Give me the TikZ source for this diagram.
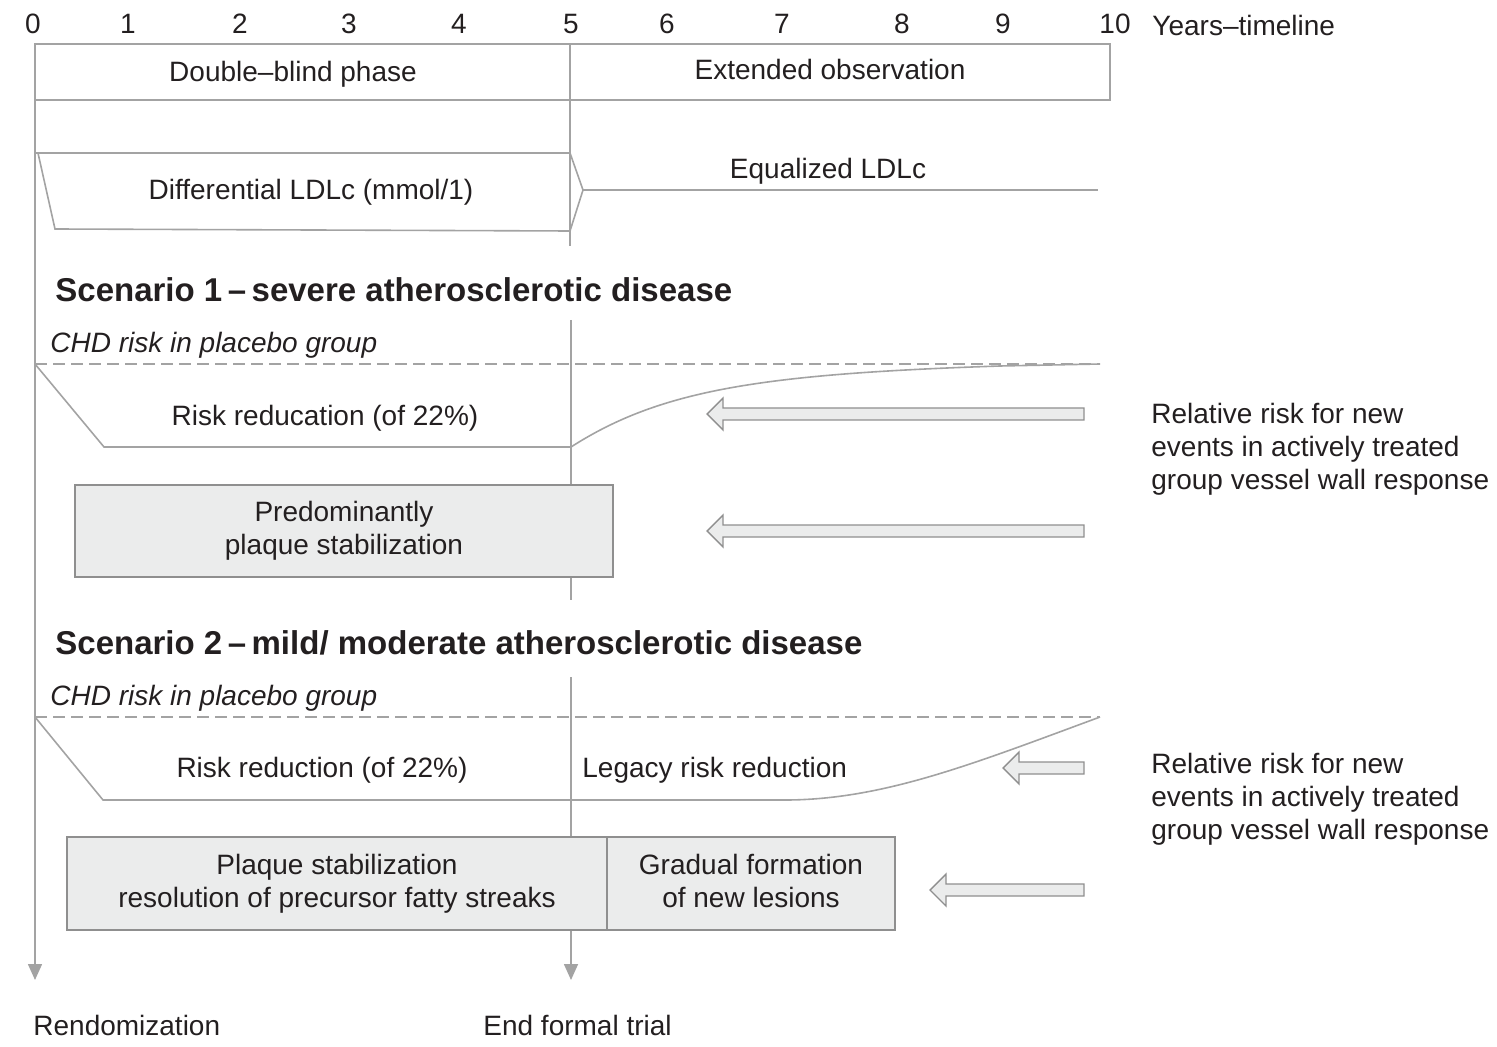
\documentclass[tikz,border=0pt]{standalone}
\usepackage{fontspec}
\setmainfont{Liberation Sans}
\usetikzlibrary{arrows.meta}
\definecolor{lnc}{HTML}{A3A3A3}
\definecolor{txc}{HTML}{231F20}
\definecolor{bxc}{HTML}{EBECEC}
\definecolor{bdc}{HTML}{8F8F8F}
\begin{document}
\begin{tikzpicture}[x=0.5pt,y=-0.5pt,
  every node/.style={text=txc, font=\fontsize{14}{16.5}\selectfont, inner sep=0pt},
  gl/.style={draw=lnc, line width=0.8pt},
  dl/.style={draw=lnc, line width=0.8pt, dash pattern=on 6pt off 3pt},
  ttl/.style={font=\bfseries\fontsize{16.5}{19}\selectfont, anchor=base west},
  chd/.style={font=\itshape\fontsize{14}{16.5}\selectfont, anchor=base west},
  boxst/.style={draw=bdc, fill=bxc, line width=0.8pt, align=center, minimum height=46pt},
  hollow/.style={draw=bdc, fill=bxc, line width=0.7pt},
  downarr/.style={gl, -{Triangle[length=8pt,width=7pt,fill=lnc]}},
  rtext/.style={align=left, anchor=west}]
\useasboundingbox (0,0) rectangle (1497,1047);

% tick labels
\foreach \x/\n in {33/0,128/1,240/2,349/3,459/4,571/5,667/6,782/7,902/8,1003/9,1115/10}
  \node[anchor=base] (t\n) at (\x,34) {\n};
\node[anchor=base west] (yt) at (1152,36) {Years--timeline};

% top box
\coordinate (tbl) at (35,44);
\coordinate (tbr) at (1110,100);
\draw[gl] (tbl) rectangle (tbr);
\draw[gl] (570,44) -- (570,100);
\node[anchor=base] (dbp) at (293,82) {Double--blind phase};
\node[anchor=base] (exo) at (830,80) {Extended observation};

% main left vertical line
\coordinate (lv0) at (35,44);
\coordinate (lv1) at (35,980);
\draw[downarr] (lv0) -- (lv1);

% vertical at year 5 (top part)
\draw[gl] (570,100) -- (570,246);

% differential LDLc shape
\coordinate (d1) at (35,153);
\coordinate (d2) at (570,153);
\coordinate (d3) at (583,190);
\coordinate (d4) at (570,231);
\coordinate (d5) at (55,229);
\coordinate (d6) at (38,153);
\draw[gl] (d1) -- (d2) -- (d3) -- (d4) -- (d5) -- (d6);
\coordinate (eq) at (1098,190);
\draw[gl] (d3) -- (eq);
\node[anchor=base] (dif) at (311,200) {Differential LDLc (mmol/1)};
\node[anchor=base] (eql) at (828,179) {Equalized LDLc};

% Scenario 1
\node[ttl] (s1) at (55,302) {Scenario 1\,--\,severe atherosclerotic disease};
\node[chd] (c1) at (50,353) {CHD risk in placebo group};
\draw[gl] (571,320) -- (571,600);
\draw[dl] (35,364) -- (1100,364);
\draw[gl] (35,364) -- (104,447) -- (571,447) .. controls (660,390) and (760,374) .. (1000,366) -- (1100,364);
\node[anchor=base] (rr1) at (325,426) {Risk reducation (of 22\%)};
\node[boxst, minimum width=269pt] (b1) at (344,531) {Predominantly\\plaque stabilization};

% hollow arrows scenario 1
\draw[hollow] (707,414) -- (723,398) -- (723,408) -- (1084,408) -- (1084,420) -- (723,420) -- (723,430) -- cycle;
\draw[hollow] (707,531) -- (723,515) -- (723,525) -- (1084,525) -- (1084,537) -- (723,537) -- (723,547) -- cycle;
\node[rtext] (r1) at (1151,449) {Relative risk for new\\events in actively treated\\group vessel wall response};

% Scenario 2
\node[ttl] (s2) at (55,654) {Scenario 2\,--\,mild/ moderate atherosclerotic disease};
\node[chd] (c2) at (50,705) {CHD risk in placebo group};
\draw[downarr] (571,677) -- (571,980);
\draw[dl] (35,717) -- (1100,717);
\draw[gl] (35,717) -- (103,800) -- (780,800) .. controls (880,801) and (970,765) .. (1100,717);
\node[anchor=base] (rr2) at (322,777) {Risk reduction (of 22\%)};
\node[anchor=base west] (lrr) at (582,777) {Legacy risk reduction};
\node[boxst, minimum width=270pt, minimum height=46.5pt] (b2) at (337,883.5) {Plaque stabilization\\resolution of precursor fatty streaks};
\node[boxst, minimum width=144pt, minimum height=46.5pt] (b3) at (751,883.5) {Gradual formation\vphantom{Qq}\\of new lesions\vphantom{Qq}};

% hollow arrows scenario 2
\draw[hollow] (1003,768) -- (1019,752) -- (1019,762) -- (1084,762) -- (1084,774) -- (1019,774) -- (1019,784) -- cycle;
\draw[hollow] (930,890) -- (946,874) -- (946,884) -- (1084,884) -- (1084,896) -- (946,896) -- (946,906) -- cycle;
\node[rtext] (r2) at (1151,799) {Relative risk for new\\events in actively treated\\group vessel wall response};

% bottom labels
\node[anchor=base west] (rnd) at (33,1035) {Rendomization};
\node[anchor=base west] (eft) at (483,1035) {End formal trial};
\end{tikzpicture}
\end{document}
